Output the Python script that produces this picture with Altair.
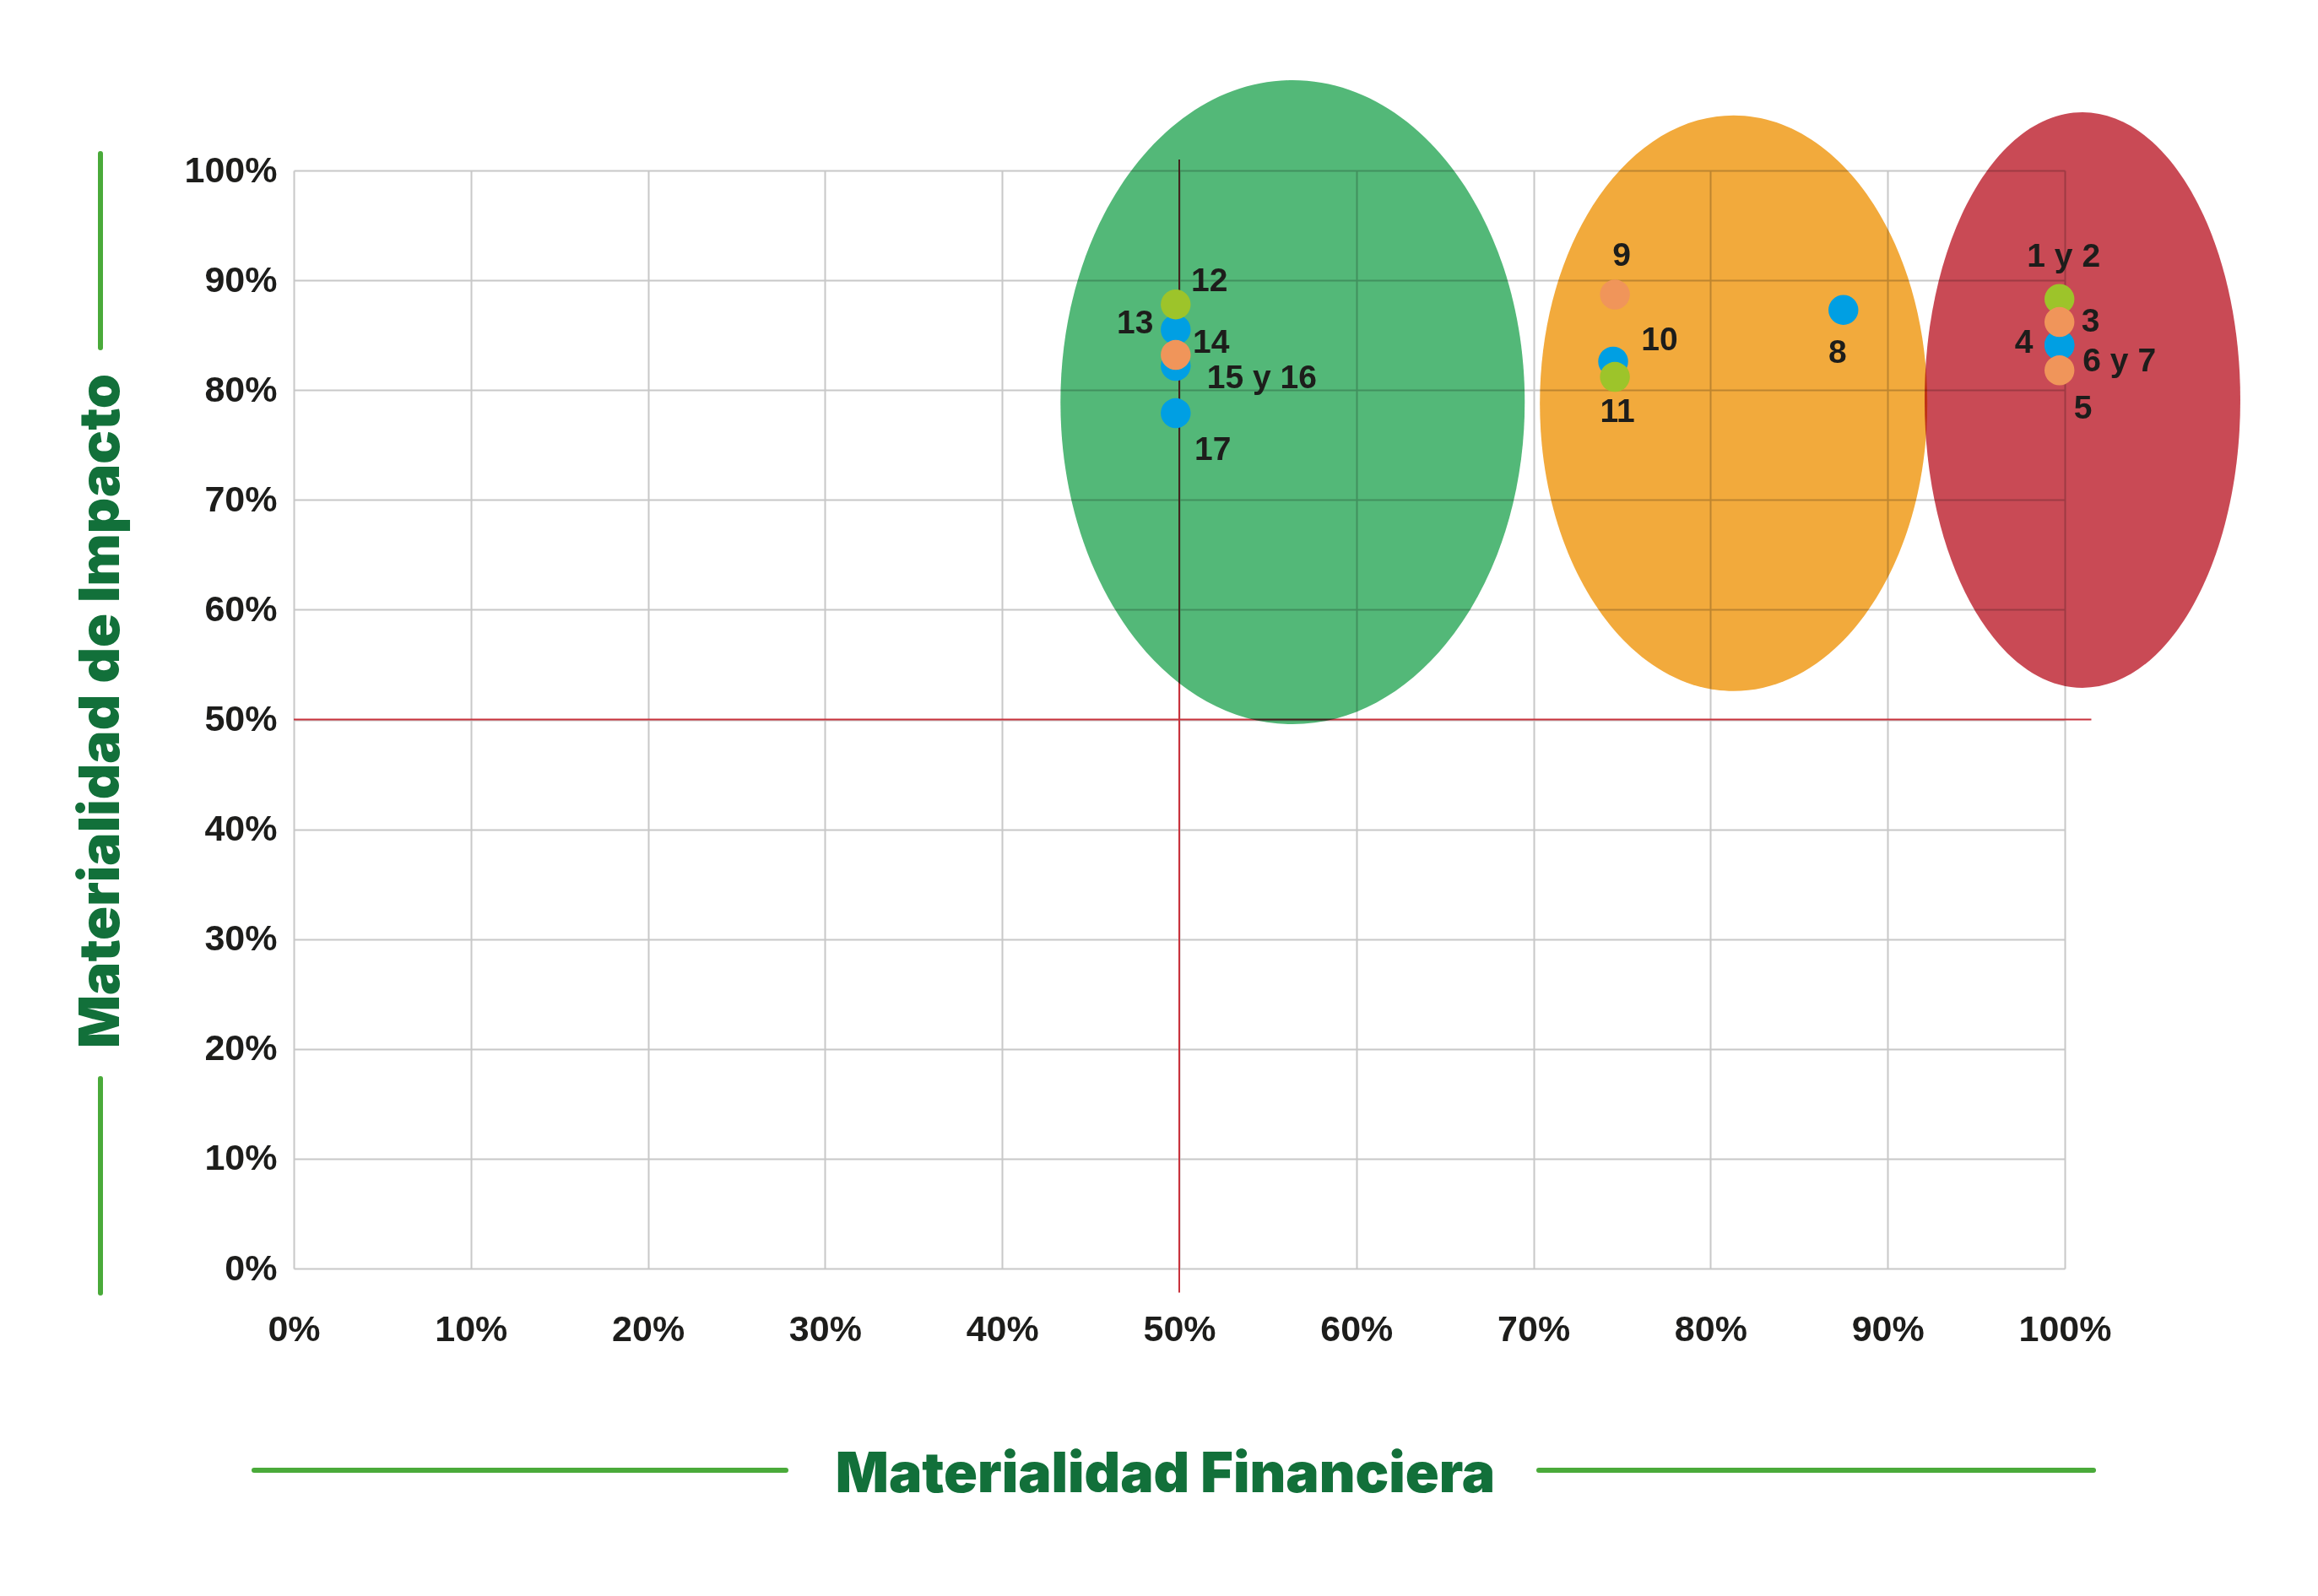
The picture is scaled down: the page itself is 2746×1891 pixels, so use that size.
import altair as alt
import pandas as pd

# ---------------- data ----------------
point_labels = ["4", "6 y 7", "8", "10", "13", "15 y 16", "17",
                "1 y 2", "11", "12",
                "3", "5", "9", "14"]
point_groups = ["azul", "azul", "azul", "azul", "azul", "azul", "azul",
                "verde", "verde", "verde",
                "naranja", "naranja", "naranja", "naranja"]
financiera = [0.997, 0.997, 0.875, 0.745, 0.498, 0.498, 0.498,
              0.997, 0.746, 0.498,
              0.997, 0.997, 0.746, 0.498]
impacto = [0.841, 0.841, 0.873, 0.826, 0.855, 0.822, 0.779,
           0.883, 0.812, 0.878,
           0.862, 0.818, 0.887, 0.832]

zone_names = ["verde", "naranja", "rojo"]
zone_cx = [0.564, 0.813, 1.010]
zone_cy = [0.789, 0.788, 0.791]

tick_values = [0.0, 0.1, 0.2, 0.3, 0.4, 0.5, 0.6, 0.7, 0.8, 0.9, 1.0]
threshold = 0.5

# ---------------- styling ----------------
W, H = 2098, 1301
group_domain = ["azul", "verde", "naranja"]
group_range = ["#009fe3", "#9dc42a", "#f0955a"]

zone_style = {
    "verde": {"color": "#53b878", "rx": 275.0, "ry": 381.5},
    "naranja": {"color": "#f2aa3c", "rx": 229.5, "ry": 341.0},
    "rojo": {"color": "#c94a55", "rx": 187.0, "ry": 341.0},
}

# label offsets in pixels (dx, dy) relative to its point
label_offsets = {
    "1 y 2": (5, -50), "3": (37, -1), "4": (-42, -3), "6 y 7": (71, 19),
    "5": (28, 45), "8": (-7, 51), "9": (8, -46), "10": (55, -25),
    "11": (3, 41), "12": (40, -28), "13": (-48, -8), "14": (42, -15),
    "15 y 16": (102, 14), "17": (44, 43),
}

pts = pd.DataFrame({"label": point_labels, "grupo": point_groups,
                    "x": financiera, "y": impacto})
pts["orden"] = pts["grupo"].map({g: i for i, g in enumerate(group_domain)})
pts = pts.sort_values("orden", kind="stable")

lab = pts.copy()
lab["x"] = lab["x"] + lab["label"].map(lambda s: label_offsets[s][0]) / W
lab["y"] = lab["y"] - lab["label"].map(lambda s: label_offsets[s][1]) / H

zones = pd.DataFrame({"zona": zone_names, "x": zone_cx, "y": zone_cy})

scale_x = alt.Scale(domain=[0, 1], nice=False, zero=False)
scale_y = alt.Scale(domain=[0, 1], nice=False, zero=False)

TITLE_FONT = "Inter"
TITLE_COLOR = "#12703a"
TITLE_SIZE = 66
LABEL_FONT = "Liberation Sans"

x_axis = alt.Axis(
    values=tick_values, format=".0%", grid=True, gridColor="#c8c8c8",
    gridWidth=2, domain=False, ticks=False,
    labelFont=LABEL_FONT, labelFontWeight="bold", labelFontSize=43,
    labelColor="#1d1d1b", labelPadding=51, labelFlush=False,
    title="Materialidad Financiera", titleFont=TITLE_FONT,
    titleFontWeight=900, titleFontSize=TITLE_SIZE, titleColor=TITLE_COLOR,
    titleX=1032, titleY=264, titleAlign="center", titleBaseline="alphabetic",
)
y_axis = alt.Axis(
    values=tick_values, format=".0%", grid=True, gridColor="#c8c8c8",
    gridWidth=2, domain=False, ticks=False,
    labelFont=LABEL_FONT, labelFontWeight="bold", labelFontSize=43,
    labelColor="#1d1d1b", labelPadding=20, labelFlush=False,
    title="Materialidad de Impacto", titleFont=TITLE_FONT,
    titleFontWeight=900, titleFontSize=TITLE_SIZE, titleColor=TITLE_COLOR,
    titleAngle=270, titleX=-208, titleY=640, titleAlign="center",
    titleBaseline="alphabetic",
)

X = alt.X("x:Q", scale=scale_x, axis=x_axis)
Y = alt.Y("y:Q", scale=scale_y, axis=y_axis)

# red threshold lines
hline = alt.Chart(pd.DataFrame({"x": [0.0], "x2": [1.015], "y": [threshold]})).mark_rule(
    color="#c8323c", strokeWidth=2).encode(x=X, x2="x2:Q", y=Y)
vline = alt.Chart(pd.DataFrame({"x": [threshold], "y": [-0.022], "y2": [1.01]})).mark_rule(
    color="#c8323c", strokeWidth=2).encode(x=X, y=Y, y2="y2:Q")

# ellipse zones
zone_layers = []
for name in zone_names:
    st = zone_style[name]
    a = st["rx"] / st["ry"]
    path = f"M {-a:.4f} 0 A {a:.4f} 1 0 1 1 {a:.4f} 0 A {a:.4f} 1 0 1 1 {-a:.4f} 0 Z"
    size = (2 * st["ry"]) ** 2
    zone_layers.append(
        alt.Chart(zones[zones["zona"] == name]).mark_point(
            shape=path, size=size, filled=True, color=st["color"],
            opacity=1, strokeWidth=0, blend="multiply"
        ).encode(x=X, y=Y)
    )

# decorative brush lines beside the axis titles
one = pd.DataFrame({"a": [0]})
GREEN_LINE = "#4aaa3a"
deco = [
    alt.Chart(one).mark_rule(color=GREEN_LINE, strokeWidth=6, strokeCap="round").encode(
        x=alt.value(-47), x2=alt.value(583), y=alt.value(1540)),
    alt.Chart(one).mark_rule(color=GREEN_LINE, strokeWidth=6, strokeCap="round").encode(
        x=alt.value(1475), x2=alt.value(2132), y=alt.value(1540)),
    alt.Chart(one).mark_rule(color=GREEN_LINE, strokeWidth=6, strokeCap="round").encode(
        x=alt.value(-229), y=alt.value(-20), y2=alt.value(210)),
    alt.Chart(one).mark_rule(color=GREEN_LINE, strokeWidth=6, strokeCap="round").encode(
        x=alt.value(-229), y=alt.value(1076), y2=alt.value(1330)),
]

points = alt.Chart(pts).mark_circle(size=1257, opacity=1).encode(
    x=X, y=Y,
    color=alt.Color("grupo:N", scale=alt.Scale(domain=group_domain, range=group_range),
                    legend=None),
)

labels = alt.Chart(lab).mark_text(
    font=LABEL_FONT, fontWeight="bold", fontSize=39, color="#1d1d1b",
    align="center", baseline="middle",
).encode(x=X, y=Y, text="label:N")

chart = alt.layer(
    hline, vline, *zone_layers, *deco, points, labels
).properties(
    width=W, height=H,
    autosize=alt.AutoSizeParams(type="none"),
    padding={"left": 340, "top": 194, "right": 262, "bottom": 355},
    background="white",
).configure_view(stroke=None)

chart.save("out.html", embed_options={"renderer": "svg", "actions": False})
